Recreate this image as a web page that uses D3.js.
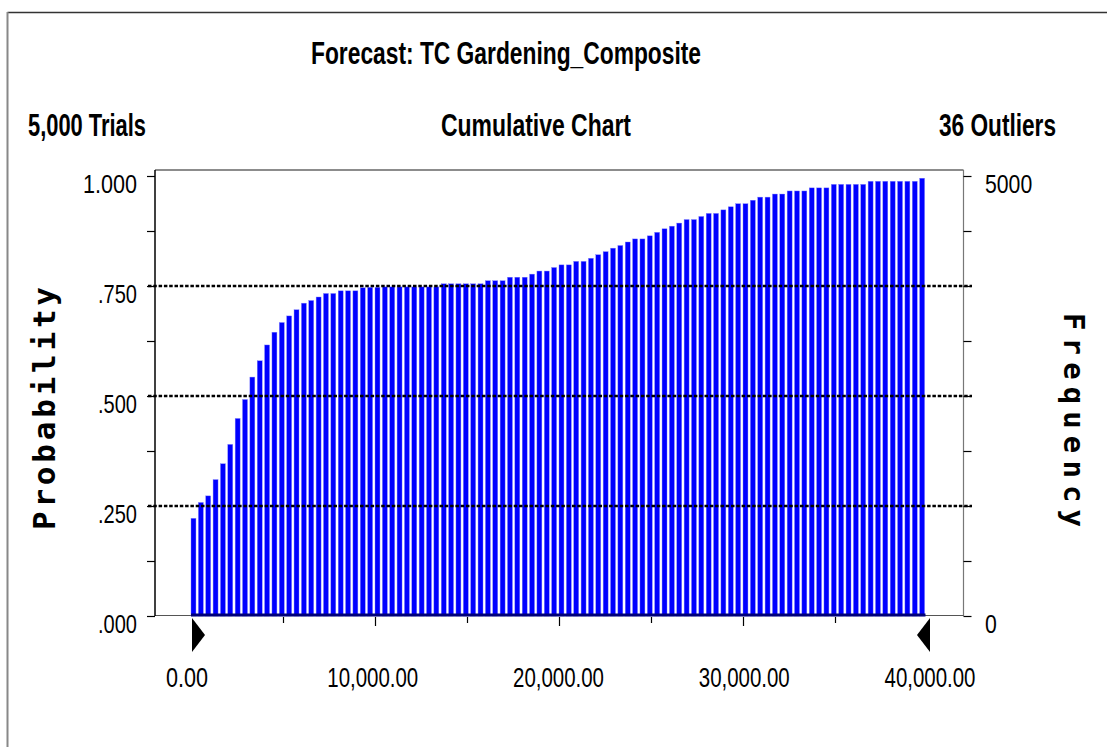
<!DOCTYPE html>
<html>
<head>
<meta charset="utf-8">
<script src="https://cdn.jsdelivr.net/npm/d3@7"></script>
<style>
  html, body { margin: 0; padding: 0; background: #fff; }
  svg { display: block; }
</style>
</head>
<body>
<svg id="chart" width="1107" height="747"></svg>
<script>
// ---------------- data ----------------
const chartTitle = "Forecast: TC Gardening_Composite";
const subtitleLeft = "5,000 Trials";
const subtitleCenter = "Cumulative Chart";
const subtitleRight = "36 Outliers";
const yAxisLabel = "Probability";
const y2AxisLabel = "Frequency";

const trials = 5000;
const binWidth = 400;           // width of each bin on the x axis
const xDomain = [0, 40000];

// cumulative probability at the end of each bin
const cumulativeProb = [
  0.222, 0.258, 0.273, 0.310, 0.346, 0.390, 0.449, 0.492, 0.543, 0.580,
  0.616, 0.645, 0.667, 0.682, 0.696, 0.711, 0.717, 0.725, 0.733, 0.733,
  0.739, 0.739, 0.739, 0.746, 0.747, 0.747, 0.748, 0.748, 0.748, 0.748,
  0.748, 0.748, 0.748, 0.748, 0.755, 0.755, 0.755, 0.755, 0.755, 0.755,
  0.762, 0.762, 0.762, 0.770, 0.770, 0.770, 0.777, 0.784, 0.784, 0.792,
  0.798, 0.798, 0.806, 0.806, 0.813, 0.821, 0.828, 0.836, 0.842, 0.850,
  0.857, 0.857, 0.864, 0.872, 0.880, 0.886, 0.893, 0.901, 0.901, 0.908,
  0.915, 0.915, 0.923, 0.930, 0.937, 0.937, 0.945, 0.952, 0.952, 0.959,
  0.959, 0.966, 0.966, 0.966, 0.973, 0.973, 0.973, 0.981, 0.981, 0.981,
  0.981, 0.981, 0.988, 0.988, 0.988, 0.988, 0.988, 0.988, 0.988, 0.995
];

const yTickValues = [0, 0.125, 0.25, 0.375, 0.5, 0.625, 0.75, 0.875, 1.0];
const yTickLabels = { 0: ".000", 0.25: ".250", 0.5: ".500", 0.75: ".750", 1: "1.000" };
const gridValues = [0.25, 0.5, 0.75];
const freqTickValues = [0, 625, 1250, 1875, 2500, 3125, 3750, 4375, 5000];
const freqTickLabels = { 0: "0", 5000: "5000" };
const xTickValues = [0, 5000, 10000, 15000, 20000, 25000, 30000, 35000, 40000];
const xTickLabels = { 0: "0.00", 10000: "10,000.00", 20000: "20,000.00", 30000: "30,000.00", 40000: "40,000.00" };

// ---------------- layout ----------------
const svg = d3.select("#chart");
const plot = { left: 155, right: 963.5, top: 170, bottom: 616 };

const x = d3.scaleLinear().domain(xDomain).range([191, 927]);
const y = d3.scaleLinear().domain([0, 1]).range([616, 176]);
const yFreq = d3.scaleLinear().domain([0, trials]).range([616, 176]);

const bins = d3.range(xDomain[0], xDomain[1], binWidth);
const barData = bins.map((b, i) => ({ x0: b, x1: b + binWidth, p: cumulativeProb[i] }));

const sansFont = "'Liberation Sans', Arial, Helvetica, sans-serif";
const monoFont = "'DejaVu Sans Mono', 'DejaVu Sans', monospace";

// outer border
svg.append("line").attr("x1", 7.5).attr("x2", 1107).attr("y1", 12.5).attr("y2", 12.5)
  .attr("stroke", "#333").attr("stroke-width", 1.5);
svg.append("line").attr("x1", 7.5).attr("x2", 7.5).attr("y1", 12).attr("y2", 747)
  .attr("stroke", "#888").attr("stroke-width", 2);

// titles
function compressedText(txt, cx, cy, width, size, weight, anchor) {
  return svg.append("text")
    .attr("x", cx).attr("y", cy)
    .attr("text-anchor", anchor || "start")
    .attr("font-family", sansFont)
    .attr("font-size", size)
    .attr("font-weight", weight || "normal")
    .attr("textLength", width)
    .attr("lengthAdjust", "spacingAndGlyphs")
    .attr("fill", "#000")
    .text(txt);
}
compressedText(chartTitle, 311, 64, 390, 31, "bold");
compressedText(subtitleLeft, 28, 136, 118, 31, "bold");
compressedText(subtitleCenter, 441, 136, 190, 31, "bold");
compressedText(subtitleRight, 939, 136, 117, 31, "bold");

// frame
svg.append("line").attr("x1", plot.left).attr("x2", plot.right).attr("y1", plot.top).attr("y2", plot.top)
  .attr("stroke", "#666").attr("stroke-width", 1.5);
svg.append("line").attr("x1", plot.right).attr("x2", plot.right).attr("y1", plot.top).attr("y2", plot.bottom)
  .attr("stroke", "#777").attr("stroke-width", 1.2);
svg.append("line").attr("x1", plot.left).attr("x2", plot.right).attr("y1", 615.5).attr("y2", 615.5)
  .attr("stroke", "#555").attr("stroke-width", 1.2);

// bars
svg.append("g").selectAll("rect").data(barData).join("rect")
  .attr("x", d => x(d.x0))
  .attr("width", d => x(d.x1) - x(d.x0) - 2.4)
  .attr("y", d => y(d.p))
  .attr("height", d => y(0) - y(d.p))
  .attr("fill", "#0000ff")
  .attr("stroke", "#7f7fff")
  .attr("stroke-width", 0.4);

// dark baseline under the bars
svg.append("line").attr("x1", x(xDomain[0])).attr("x2", x(xDomain[1]) - 1.5)
  .attr("y1", 615).attr("y2", 615).attr("stroke", "#00007a").attr("stroke-width", 3);

// left axis
const yAxis = d3.axisLeft(y).tickValues(yTickValues).tickSize(8).tickFormat(() => "");
const gy = svg.append("g").attr("transform", `translate(${plot.left},0)`).call(yAxis);
gy.select(".domain").attr("stroke", "#000").attr("stroke-width", 1.5)
  .attr("d", `M-8,${plot.top}H0V${plot.bottom}H-8`);
gy.selectAll(".tick line").attr("stroke", "#000").attr("stroke-width", 1.2);
gy.selectAll(".domain").attr("d", `M0,${plot.top}V${plot.bottom}`);

yTickValues.filter(v => yTickLabels[v] !== undefined).forEach(v => {
  const lbl = yTickLabels[v];
  svg.append("text")
    .attr("x", 137).attr("y", y(v) + 17)
    .attr("text-anchor", "end")
    .attr("font-family", sansFont).attr("font-size", 25)
    .attr("textLength", lbl.length === 5 ? 54 : 39)
    .attr("lengthAdjust", "spacingAndGlyphs")
    .text(lbl);
});

// right axis (frequency)
const y2Axis = d3.axisRight(yFreq).tickValues(freqTickValues).tickSize(8).tickFormat(() => "");
const gy2 = svg.append("g").attr("transform", `translate(${plot.right},0)`).call(y2Axis);
gy2.select(".domain").remove();
gy2.selectAll(".tick line").attr("stroke", "#000").attr("stroke-width", 1.2);
freqTickValues.filter(v => freqTickLabels[v] !== undefined).forEach(v => {
  const lbl = freqTickLabels[v];
  svg.append("text")
    .attr("x", 985).attr("y", yFreq(v) + 17)
    .attr("font-family", sansFont).attr("font-size", 25)
    .attr("textLength", lbl.length * 11.8)
    .attr("lengthAdjust", "spacingAndGlyphs")
    .text(lbl);
});

// dashed grid lines at quartiles
svg.append("g").selectAll("line").data(gridValues).join("line")
  .attr("x1", 148).attr("x2", 972)
  .attr("y1", d => y(d)).attr("y2", d => y(d))
  .attr("stroke", "#000").attr("stroke-width", 2.5)
  .attr("stroke-dasharray", "3.5,1.8");

// bottom axis
const xAxis = d3.axisBottom(x).tickValues(xTickValues)
  .tickSize(0).tickFormat(() => "");
const gx = svg.append("g").attr("transform", `translate(0,${plot.bottom})`).call(xAxis);
gx.select(".domain").remove();
gx.selectAll(".tick").filter(d => d > xDomain[0] && d < xDomain[1]).append("line")
  .attr("y1", 1).attr("y2", d => (d % 10000 === 0 ? 10 : 7))
  .attr("stroke", "#000").attr("stroke-width", 1.2);

xTickValues.filter(v => xTickLabels[v] !== undefined).forEach(v => {
  const lbl = xTickLabels[v];
  svg.append("text")
    .attr("x", x(v) - 4 + (v / 40000) * 7).attr("y", 687)
    .attr("text-anchor", "middle")
    .attr("font-family", sansFont).attr("font-size", 28)
    .attr("textLength", lbl.length === 4 ? 42 : 91)
    .attr("lengthAdjust", "spacingAndGlyphs")
    .text(lbl);
});

// range markers (triangles)
const x0 = x(xDomain[0]), x1 = x(xDomain[1]);
svg.append("path").attr("d", `M${x0 + 1},618L${x0 + 1},652L${x0 + 14},635Z`).attr("fill", "#000");
svg.append("path").attr("d", `M${x1 + 3},618L${x1 + 3},652L${x1 - 10},635Z`).attr("fill", "#000");

// axis titles
svg.append("text")
  .attr("transform", "translate(55,408.5) rotate(-90)")
  .attr("text-anchor", "middle")
  .attr("font-family", monoFont).attr("font-weight", "bold").attr("font-size", 31)
  .attr("textLength", 243).attr("lengthAdjust", "spacing")
  .text(yAxisLabel);
svg.append("text")
  .attr("transform", "translate(1064,420) rotate(90)")
  .attr("text-anchor", "middle")
  .attr("font-family", monoFont).attr("font-weight", "bold").attr("font-size", 29)
  .attr("textLength", 214).attr("lengthAdjust", "spacing")
  .text(y2AxisLabel);
</script>
</body>
</html>
